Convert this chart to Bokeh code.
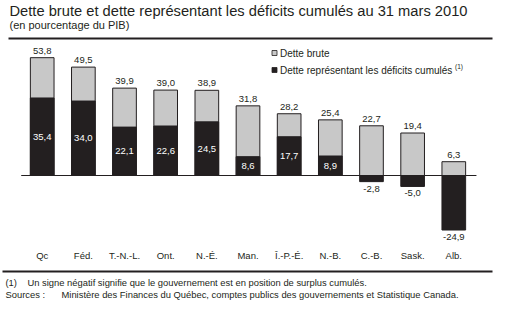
from bokeh.plotting import figure
from bokeh.models import Range1d, Label, ColumnDataSource
from bokeh.core.properties import value
from bokeh.embed import file_html
from bokeh.resources import INLINE

categories = ["Qc", "Féd.", "T.-N.-L.", "Ont.", "N.-É.", "Man.", "Î.-P.-É.", "N.-B.", "C.-B.", "Sask.", "Alb."]
gross_debt = [53.8, 49.5, 39.9, 39.0, 38.9, 31.8, 28.2, 25.4, 22.7, 19.4, 6.3]
deficit_debt = [35.4, 34.0, 22.1, 22.6, 24.5, 8.6, 17.7, 8.9, -2.8, -5.0, -24.9]

title = "Dette brute et dette représentant les déficits cumulés au 31 mars 2010"
subtitle = "(en pourcentage du PIB)"
legend_labels = ["Dette brute", "Dette représentant les déficits cumulés"]
note1_a = "(1)"
note1_b = "Un signe négatif signifie que le gouvernement est en position de surplus cumulés."
note2_a = "Sources :"
note2_b = "Ministère des Finances du Québec, comptes publics des gouvernements et Statistique Canada."

W, H = 507, 312
X0, DX = 41.7, 41.16   # pixel of first category centre, pixels per category
Y0, DY = 175.0, 2.19   # pixel of zero line, pixels per percentage point

def px(x):
    return (x - X0) / DX

def py(y):
    return (Y0 - y) / DY

FONT_NAME = "Liberation Sans"
FONT = value(FONT_NAME)
INK = "#231f20"
GREY = "#c8c8c8"

def fmt(v):
    return f"{v:.1f}".replace(".", ",")

idx = list(range(len(categories)))
src = ColumnDataSource(dict(
    x=idx,
    cat=categories,
    gross=gross_debt,
    deficit=deficit_debt,
    gross_lbl=[fmt(v) for v in gross_debt],
))
pos = ColumnDataSource(dict(
    x=[i for i in idx if deficit_debt[i] > 0],
    y=[deficit_debt[i] / 2 for i in idx if deficit_debt[i] > 0],
    t=[fmt(deficit_debt[i]) for i in idx if deficit_debt[i] > 0],
))
neg = ColumnDataSource(dict(
    x=[i for i in idx if deficit_debt[i] < 0],
    y=[deficit_debt[i] for i in idx if deficit_debt[i] < 0],
    t=[fmt(deficit_debt[i]) for i in idx if deficit_debt[i] < 0],
))

p = figure(width=W, height=H,
           x_range=Range1d(px(0), px(W)), y_range=Range1d(py(H), py(0)),
           output_backend="svg", toolbar_location=None,
           x_axis_location=None, y_axis_location=None,
           min_border=0, outline_line_color=None)
p.grid.visible = False
p.background_fill_color = "white"

BW = 0.575
p.vbar(x="x", top="gross", bottom=0, width=BW, source=src,
       fill_color=GREY, line_color=INK, line_width=1)
p.vbar(x="x", top="deficit", bottom=0, width=BW, source=src,
       fill_color=INK, line_color=INK, line_width=1)

# zero line
p.segment(x0=[-0.51], y0=[0], x1=[len(categories) - 0.45], y1=[0], line_color=INK, line_width=1.2)

# value labels
p.text(x="x", y="gross", text="gross_lbl", source=src, text_font=FONT, text_font_size="9.5px",
       text_color=INK, text_align="center", text_baseline="alphabetic", y_offset=-7)
p.text(x="x", y="y", text="t", source=pos, text_font=FONT, text_font_size="9.5px",
       text_color="white", text_align="center", text_baseline="middle")
p.text(x="x", y="y", text="t", source=neg, text_font=FONT, text_font_size="9.5px",
       text_color=INK, text_align="center", text_baseline="top", y_offset=4)

# category labels
p.text(x="x", y=py(255), text="cat", source=src, text_font=FONT, text_font_size="9.5px",
       text_color=INK, text_align="center", text_baseline="middle")

# rules
p.segment(x0=[px(8)], y0=[py(38)], x1=[px(492)], y1=[py(38)], line_color=INK, line_width=2)
p.segment(x0=[px(2)], y0=[py(271)], x1=[px(492)], y1=[py(271)], line_color=INK, line_width=2)

def lab(x, y, text, size, color=INK):
    p.add_layout(Label(x=px(x), y=py(y), text=text, text_font=FONT_NAME, text_font_size=size,
                       text_color=color, text_baseline="middle"))

lab(9, 10.5, title, "14.7px")
lab(9, 24.5, subtitle, "11px")

# legend
p.rect(x=[px(274), px(274)], y=[py(52.5), py(69.5)], width=5 / DX, height=5 / DY,
       fill_color=[GREY, INK], line_color=INK, line_width=0.8)
lab(279.5, 52.5, legend_labels[0], "10px")
lab(279.5, 69.5, legend_labels[1], "10px")
lab(454.5, 65.5, "(1)", "6.5px")

lab(5, 282, note1_a, "9.4px")
lab(27, 282, note1_b, "9.4px")
lab(5, 294, note2_a, "9.4px")
lab(61, 294, note2_b, "9.4px")

open("out.html", "w").write(file_html(p, INLINE))
